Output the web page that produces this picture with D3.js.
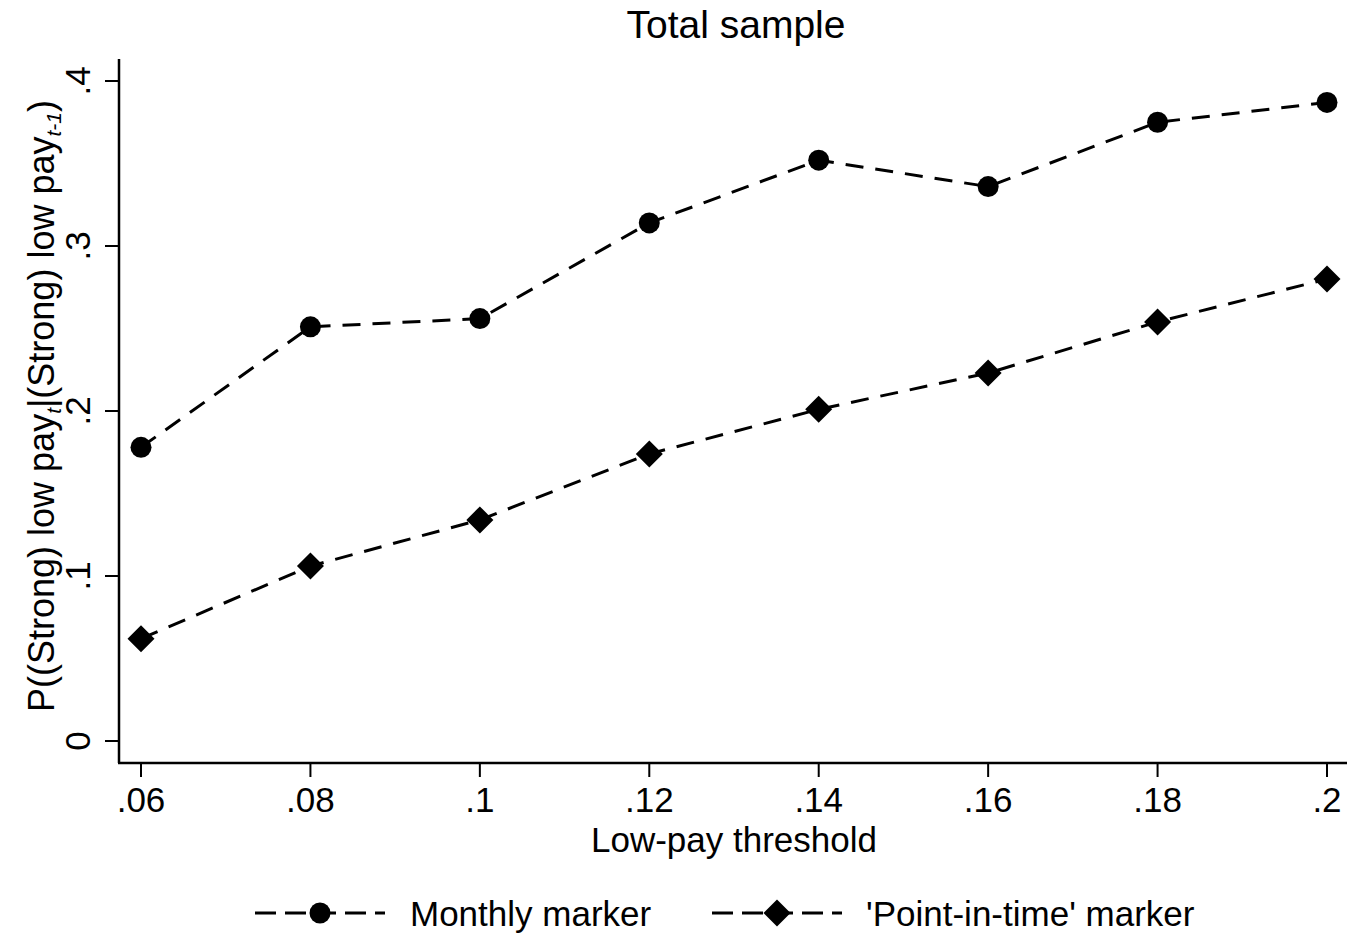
<!DOCTYPE html>
<html lang="en">
<head>
    <meta charset="UTF-8">
    <title>Total sample</title>
    <script src="https://d3js.org/d3.v7.min.js"></script>
    <style>
        body { margin: 0; background: #fff; }
        text { font-family: "Liberation Sans", Arial, sans-serif; fill: #000; }
    </style>
</head>
<body>
<svg id="chart" width="1347" height="937"></svg>
<script>
    // thresholds on the x axis
    const thresholds = [0.06, 0.08, 0.10, 0.12, 0.14, 0.16, 0.18, 0.20];
    const monthly = [0.178, 0.251, 0.256, 0.314, 0.352, 0.336, 0.375, 0.387];
    const pointInTime = [0.062, 0.106, 0.134, 0.174, 0.201, 0.223, 0.254, 0.280];
    const xTicks = [0.06, 0.08, 0.10, 0.12, 0.14, 0.16, 0.18, 0.20];
    const xTickLabels = [".06", ".08", ".1", ".12", ".14", ".16", ".18", ".2"];
    const yTicks = [0, 0.1, 0.2, 0.3, 0.4];
    const yTickLabels = ["0", ".1", ".2", ".3", ".4"];
    const seriesNames = ["Monthly marker", "'Point-in-time' marker"];

    const svg = d3.select("#chart");
    const fontSize = 35;
    const dash = "18,12";

    const x = d3.scaleLinear().domain([0.06, 0.20]).range([141, 1327]);
    const y = d3.scaleLinear().domain([0, 0.4]).range([741, 81]);

    const axisX = 119, axisY = 763;

    // axis lines
    svg.append("line").attr("x1", axisX).attr("x2", axisX).attr("y1", 59).attr("y2", axisY)
        .attr("stroke", "#000").attr("stroke-width", 2.5);
    svg.append("line").attr("x1", axisX - 1).attr("x2", 1347).attr("y1", axisY).attr("y2", axisY)
        .attr("stroke", "#000").attr("stroke-width", 2.5);

    // y ticks
    yTicks.forEach((t, i) => {
        svg.append("line").attr("x1", axisX - 14).attr("x2", axisX).attr("y1", y(t)).attr("y2", y(t))
            .attr("stroke", "#000").attr("stroke-width", 2);
        svg.append("text")
            .attr("transform", `translate(90,${y(t)}) rotate(-90)`)
            .attr("text-anchor", "middle")
            .style("font-size", fontSize + "px")
            .text(yTickLabels[i]);
    });

    // x ticks
    xTicks.forEach((t, i) => {
        svg.append("line").attr("x1", x(t)).attr("x2", x(t)).attr("y1", axisY).attr("y2", axisY + 14)
            .attr("stroke", "#000").attr("stroke-width", 2);
        svg.append("text")
            .attr("x", x(t)).attr("y", 812)
            .attr("text-anchor", "middle")
            .style("font-size", fontSize + "px")
            .text(xTickLabels[i]);
    });

    // title and axis titles
    svg.append("text").attr("x", 736).attr("y", 38).attr("text-anchor", "middle")
        .style("font-size", "39px").text("Total sample");
    svg.append("text").attr("x", 734).attr("y", 852).attr("text-anchor", "middle")
        .style("font-size", fontSize + "px").text("Low-pay threshold");

    const yl = svg.append("text")
        .attr("transform", "translate(54,406) rotate(-90)")
        .attr("text-anchor", "middle")
        .style("font-size", "36px");
    yl.append("tspan").text("P((Strong) low pay");
    yl.append("tspan").attr("dy", 7).style("font-size", "21px").style("font-style", "italic").text("t");
    yl.append("tspan").attr("dy", -7).text("|(Strong) low pay");
    yl.append("tspan").attr("dy", 7).style("font-size", "21px").style("font-style", "italic").text("t-1");
    yl.append("tspan").attr("dy", -7).text(")");

    // lines
    const line = d3.line().x((d, i) => x(thresholds[i])).y(d => y(d));
    [monthly, pointInTime].forEach(s => {
        svg.append("path").datum(s).attr("d", line)
            .attr("fill", "none").attr("stroke", "#000")
            .attr("stroke-width", 3).attr("stroke-dasharray", dash);
    });

    const diamond = (cx, cy, r) => `M${cx},${cy - r}L${cx + r},${cy}L${cx},${cy + r}L${cx - r},${cy}Z`;

    svg.selectAll("circle.m").data(monthly).enter().append("circle")
        .attr("cx", (d, i) => x(thresholds[i])).attr("cy", d => y(d)).attr("r", 10.5).attr("fill", "#000");
    svg.selectAll("path.p").data(pointInTime).enter().append("path")
        .attr("d", (d, i) => diamond(x(thresholds[i]), y(d), 13.5)).attr("fill", "#000");

    // legend
    const legY = 913;
    const legItems = [
        { lx: 255, tx: 410, shape: "circle" },
        { lx: 712, tx: 866, shape: "diamond" }
    ];
    legItems.forEach((it, i) => {
        svg.append("line").attr("x1", it.lx).attr("x2", it.lx + 130).attr("y1", legY).attr("y2", legY)
            .attr("stroke", "#000").attr("stroke-width", 3).attr("stroke-dasharray", "21,9");
        const cx = it.lx + 65;
        if (it.shape === "circle") {
            svg.append("circle").attr("cx", cx).attr("cy", legY).attr("r", 10.5).attr("fill", "#000");
        } else {
            svg.append("path").attr("d", diamond(cx, legY, 13.5)).attr("fill", "#000");
        }
        svg.append("text").attr("x", it.tx).attr("y", legY + 13)
            .style("font-size", fontSize + "px").text(seriesNames[i]);
    });
</script>
</body>
</html>
